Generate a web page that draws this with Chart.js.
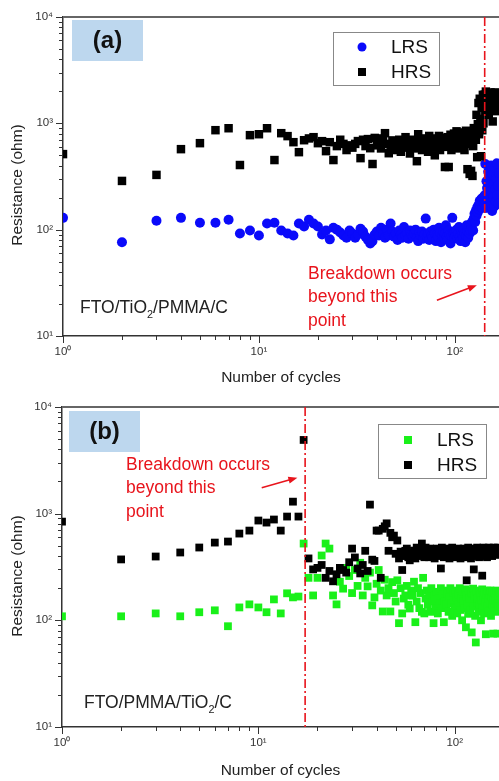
<!DOCTYPE html>
<html>
<head>
<meta charset="utf-8">
<script src="https://cdn.jsdelivr.net/npm/chart.js@4.4.1/dist/chart.umd.min.js"></script>
<style>
  html, body { margin: 0; padding: 0; background: #fff; overflow: hidden; }
  .panel { position: absolute; left: 0; width: 499px; }
  #panelA { top: 0; height: 390px; }
  #panelB { top: 390px; height: 391px; }
</style>
</head>
<body>
<div class="panel" id="panelA"><canvas id="chartA"></canvas></div>
<div class="panel" id="panelB"><canvas id="chartB"></canvas></div>
<script>
// one value per cycle, cycle number = index + 1
const lrsA = [
  129, 76, 121, 129, 116, 116, 124, 92, 98, 88,
  114, 116, 98, 92, 88, 114, 107, 124, 114, 107,
  90, 98, 81, 104, 100, 94, 88, 84, 98, 92,
  84, 90, 102, 96, 86, 80, 74, 78, 90, 96,
  88, 104, 92, 84, 100, 88, 114, 96, 86, 92,
  80, 98, 90, 84, 106, 88, 94, 82, 98, 90,
  86, 92, 100, 84, 78, 94, 88, 96, 82, 90,
  127, 86, 92, 80, 96, 88, 84, 100, 92, 78,
  90, 86, 104, 94, 76, 88, 96, 84, 92, 110,
  86, 80, 98, 90, 74, 88, 129, 94, 84, 96,
  88, 100, 82, 92, 106, 86, 78, 96, 90, 84,
  100, 92, 76, 88, 110, 96, 84, 104, 92, 98,
  114, 106, 120, 98, 128, 141, 118, 150, 135, 161,
  146, 170, 155, 187, 165, 178, 196, 160, 185, 200,
  175, 210, 414, 160, 285, 246, 190, 350, 170, 310,
  260, 180, 400, 230, 150, 330, 200, 270, 165, 380,
  240, 185, 300, 420, 210, 260, 175, 340
];
const hrsA = [
  513, 287, 327, 571, 650, 861, 898, 405, 773, 789,
  898, 451, 807, 757, 664, 535, 693, 720, 740, 650,
  679, 547, 664, 451, 610, 700, 640, 560, 620, 590,
  640, 680, 470, 700, 610, 710, 583, 414, 728, 620,
  660, 580, 720, 807, 640, 523, 600, 690, 560, 650,
  620, 700, 540, 660, 590, 740, 610, 680, 520, 640,
  700, 580, 660, 440, 789, 620, 690, 560, 720, 600,
  650, 700, 540, 760, 610, 680, 590, 720, 500, 660,
  700, 620, 760, 560, 680, 640, 730, 600, 388, 700,
  660, 740, 388, 620, 780, 560, 700, 650, 800, 610,
  720, 840, 580, 700, 760, 640, 820, 600, 740, 680,
  780, 560, 700, 850, 640, 370, 760, 690, 334, 720,
  357, 820, 320, 610, 900, 750, 898, 700, 1200, 480,
  980, 1550, 789, 1700, 1100, 490, 1400, 860, 1850, 1000,
  1600, 1860, 1300, 1985, 1700, 1500, 1900, 1750, 1200, 1850,
  1600, 1950, 1400, 1800, 1700, 1040, 1900, 1650, 1800, 1500,
  1950, 1700, 1850, 1300, 1750, 1900, 1600, 1800
];
const lrsB = [
  109, 109, 116, 109, 119, 124, 88, 132, 141, 132,
  119, 157, 116, 179, 164, 167, 524, 250, 171, 250,
  405, 524, 470, 171, 141, 230, 198, 310, 260, 180,
  296, 210, 346, 171, 250, 208, 280, 138, 164, 220,
  296, 190, 121, 240, 171, 200, 121, 228, 180, 150,
  237, 94, 200, 116, 160, 171, 210, 140, 129, 190,
  170, 230, 96, 150, 200, 130, 180, 120, 250, 116,
  160, 190, 140, 175, 120, 200, 150, 94, 170, 130,
  185, 116, 160, 144, 200, 130, 175, 96, 150, 190,
  140, 179, 120, 165, 200, 144, 110, 180, 155, 130,
  190, 164, 116, 175, 140, 200, 125, 160, 100, 185,
  150, 130, 195, 86, 170, 140, 115, 190, 160, 125,
  180, 77, 150, 198, 135, 170, 110, 62, 185, 145,
  160, 120, 190, 140, 175, 100, 155, 195, 130, 170,
  116, 183, 150, 74, 175, 135, 190, 160, 120, 175,
  145, 190, 110, 165, 140, 185, 75, 155, 130, 180,
  160, 120, 190, 145, 75, 170, 135, 180
];
const hrsB = [
  841, 372, 396, 432, 481, 535, 547, 650, 693, 861,
  824, 880, 693, 938, 1294, 938, 4900, 380, 300, 310,
  330, 250, 290, 232, 270, 310, 296, 280, 350, 470,
  388, 306, 275, 330, 448, 290, 1214, 370, 360, 693,
  693, 250, 720, 760, 810, 448, 660, 600, 622, 420,
  560, 380, 440, 296, 400, 448, 470, 390, 365, 430,
  410, 450, 380, 480, 420, 460, 400, 524, 440, 390,
  480, 420, 450, 390, 470, 430, 410, 460, 380, 440,
  470, 400, 450, 430, 306, 480, 420, 390, 460, 440,
  410, 470, 430, 380, 450, 420, 480, 400, 440, 460,
  390, 450, 420, 470, 410, 440, 380, 460, 430, 400,
  470, 420, 450, 390, 237, 440, 480, 410, 460, 430,
  380, 450, 420, 470, 300, 440, 400, 460, 430, 480,
  410, 450, 390, 470, 420, 440, 460, 262, 430, 480,
  400, 450, 470, 420, 440, 390, 460, 430, 480, 410,
  450, 420, 470, 440, 400, 460, 430, 480, 420, 450,
  470, 440, 410, 460, 430, 480, 450, 420
];

const xMajor = [1, 10, 100];
const xMinor = [2, 3, 4, 5, 6, 7, 8, 9, 20, 30, 40, 50, 60, 70, 80, 90];
const yMajor = [10, 100, 1000, 10000];
const yMinor = [20, 30, 40, 50, 60, 70, 80, 90, 200, 300, 400, 500, 600, 700, 800, 900,
  2000, 3000, 4000, 5000, 6000, 7000, 8000, 9000];
const tickText = { 1: '10⁰', 10: '10¹', 100: '10²', 1000: '10³', 10000: '10⁴' };
const xMax = 168;
const breakdownA = 142;
const breakdownB = 17.3;

const FONT = 'Liberation Sans, Arial, sans-serif';
const RED = 'rgb(232, 20, 28)';

const toPoints = arr => arr.map((v, i) => ({ x: i + 1, y: v }));

function drawMarker(ctx, style, color, x, y, r) {
  ctx.fillStyle = color;
  ctx.beginPath();
  if (style === 'circle') ctx.arc(x, y, r, 0, Math.PI * 2);
  else ctx.rect(x - r, y - r, 2 * r, 2 * r);
  ctx.fill();
}

function drawSubText(ctx, parts, x, y, size) {
  let cx = x;
  parts.forEach(p => {
    const sub = p[1];
    ctx.font = (sub ? size * 0.62 : size) + 'px ' + FONT;
    ctx.fillText(p[0], cx, sub ? y + size * 0.38 : y);
    cx += ctx.measureText(p[0]).width;
  });
}

const decor = {
  id: 'decor',
  afterDraw(chart, args, o) {
    const { ctx, chartArea: a, scales: { x, y } } = chart;
    ctx.save();

    // top frame
    ctx.strokeStyle = '#666';
    ctx.lineWidth = 2;
    ctx.beginPath();
    ctx.moveTo(a.left, a.top);
    ctx.lineTo(a.right, a.top);
    ctx.stroke();

    // outward ticks, major longer than minor
    ctx.strokeStyle = '#333';
    ctx.lineWidth = 1;
    ctx.beginPath();
    xMajor.concat(xMinor).forEach(v => {
      if (v > xMax) return;
      const px = Math.round(x.getPixelForValue(v)) + 0.5;
      const len = xMajor.includes(v) ? 7 : 4;
      ctx.moveTo(px, a.bottom);
      ctx.lineTo(px, a.bottom + len);
    });
    yMajor.concat(yMinor).forEach(v => {
      const py = Math.round(y.getPixelForValue(v)) + 0.5;
      const len = yMajor.includes(v) ? 7 : 4;
      ctx.moveTo(a.left, py);
      ctx.lineTo(a.left - len, py);
    });
    ctx.stroke();

    // y title
    ctx.fillStyle = '#222';
    ctx.font = '15.5px ' + FONT;
    ctx.textAlign = 'center';
    ctx.textBaseline = 'middle';
    ctx.save();
    ctx.translate(18, o.yTitleY);
    ctx.rotate(-Math.PI / 2);
    ctx.fillText('Resistance (ohm)', 0, 0);
    ctx.restore();

    // breakdown line
    const bx = x.getPixelForValue(o.breakdown);
    ctx.strokeStyle = RED;
    ctx.lineWidth = 1.6;
    ctx.setLineDash([9, 3, 2, 3]);
    ctx.beginPath();
    ctx.moveTo(bx, a.top);
    ctx.lineTo(bx, a.bottom);
    ctx.stroke();
    ctx.setLineDash([]);

    // arrow
    const x1 = x.getPixelForValue(o.arrow[0]), y1 = y.getPixelForValue(o.arrow[1]);
    const x2 = x.getPixelForValue(o.arrow[2]), y2 = y.getPixelForValue(o.arrow[3]);
    const ang = Math.atan2(y2 - y1, x2 - x1);
    ctx.strokeStyle = RED;
    ctx.fillStyle = RED;
    ctx.lineWidth = 1.6;
    ctx.beginPath();
    ctx.moveTo(x1, y1);
    ctx.lineTo(x2 - 6 * Math.cos(ang), y2 - 6 * Math.sin(ang));
    ctx.stroke();
    ctx.beginPath();
    ctx.moveTo(x2, y2);
    ctx.lineTo(x2 - 9 * Math.cos(ang) + 3.5 * Math.sin(ang), y2 - 9 * Math.sin(ang) - 3.5 * Math.cos(ang));
    ctx.lineTo(x2 - 9 * Math.cos(ang) - 3.5 * Math.sin(ang), y2 - 9 * Math.sin(ang) + 3.5 * Math.cos(ang));
    ctx.closePath();
    ctx.fill();

    // breakdown note
    ctx.textAlign = 'left';
    ctx.font = '17.5px ' + FONT;
    ['Breakdown occurs', 'beyond this', 'point'].forEach((t, i) => {
      ctx.fillText(t, o.note[0], o.note[1] + i * 23.5);
    });

    // panel label box
    const b = o.labelBox;
    ctx.fillStyle = '#bdd7ee';
    ctx.fillRect(b[0], b[1], b[2] - b[0], b[3] - b[1]);
    ctx.fillStyle = '#111';
    ctx.font = 'bold 24px ' + FONT;
    ctx.textAlign = 'center';
    ctx.fillText(o.label, (b[0] + b[2]) / 2, (b[1] + b[3]) / 2 + 1);

    // legend
    const L = o.legend;
    ctx.fillStyle = '#fff';
    ctx.fillRect(L.box[0], L.box[1], L.box[2] - L.box[0], L.box[3] - L.box[1]);
    ctx.strokeStyle = '#888';
    ctx.lineWidth = 1;
    ctx.strokeRect(L.box[0] + 0.5, L.box[1] + 0.5, L.box[2] - L.box[0], L.box[3] - L.box[1]);
    ctx.textAlign = 'left';
    ctx.font = '19px ' + FONT;
    L.items.forEach((it, i) => {
      const yy = L.rowY[i];
      drawMarker(ctx, it.style, it.color, L.markX, yy, it.r);
      ctx.fillStyle = '#111';
      ctx.fillText(it.label, L.textX, yy + 1);
    });

    // stack label
    ctx.fillStyle = '#222';
    ctx.textAlign = 'left';
    drawSubText(ctx, o.stack, o.stackPos[0], o.stackPos[1], 17.5);

    ctx.restore();
  }
};

function makePanel(id, datasets, yWidth, padTop, titlePad, opts) {
  return new Chart(document.getElementById(id), {
    type: 'scatter',
    data: { datasets },
    options: {
      responsive: true,
      maintainAspectRatio: false,
      animation: false,
      events: [],
      layout: { autoPadding: false, padding: { top: padTop, right: 0, bottom: 0, left: 0 } },
      plugins: { legend: { display: false }, tooltip: { enabled: false }, decor: opts },
      scales: {
        x: {
          type: 'logarithmic',
          min: 1,
          max: xMax,
          afterBuildTicks: s => { s.ticks = xMajor.map(v => ({ value: v })); },
          afterFit: s => { s.height = 54; s.paddingLeft = 0; s.paddingRight = 0; },
          grid: { display: false, drawTicks: false },
          border: { display: true, color: '#333', width: 1.5 },
          ticks: {
            padding: 9, autoSkip: false, maxRotation: 0,
            color: '#333', font: { family: FONT, size: 11.5 },
            callback: v => tickText[v] || ''
          },
          title: {
            display: true, text: 'Number of cycles', color: '#222',
            font: { family: FONT, size: 15.5 }, padding: { top: 0, bottom: titlePad }
          }
        },
        y: {
          type: 'logarithmic',
          min: 10,
          max: 10000,
          afterBuildTicks: s => { s.ticks = yMajor.map(v => ({ value: v })); },
          afterFit: s => { s.width = yWidth; },
          grid: { display: false, drawTicks: false },
          border: { display: true, color: '#333', width: 1.5 },
          ticks: {
            padding: 10, color: '#333', font: { family: FONT, size: 11.5 },
            callback: v => tickText[v] || ''
          }
        }
      }
    },
    plugins: [decor]
  });
}

makePanel('chartA', [
  { label: 'LRS', data: toPoints(lrsA), pointStyle: 'circle', pointRadius: 5,
    backgroundColor: 'rgb(10, 10, 250)', borderWidth: 0, order: 2 },
  { label: 'HRS', data: toPoints(hrsA), pointStyle: 'rect', pointRadius: 6,
    backgroundColor: '#000', borderWidth: 0, order: 1 }
], 63, 15, 3, {
  yTitleY: 185,
  breakdown: breakdownA,
  arrow: [81, 21.7, 129.5, 30],
  note: [308, 274],
  label: '(a)',
  labelBox: [72, 20, 143, 61],
  legend: {
    box: [333, 32, 439, 85], markX: 362, textX: 391, rowY: [47, 72],
    items: [
      { label: 'LRS', style: 'circle', color: 'rgb(10, 10, 250)', r: 4.5 },
      { label: 'HRS', style: 'rect', color: '#000', r: 4 }
    ]
  },
  stack: [['FTO/TiO', false], ['2', true], ['/PMMA/C', false]],
  stackPos: [80, 308]
});

makePanel('chartB', [
  { label: 'LRS', data: toPoints(lrsB), pointStyle: 'rect', pointRadius: 5.5,
    backgroundColor: 'rgb(25, 240, 25)', borderWidth: 0, order: 2 },
  { label: 'HRS', data: toPoints(hrsB), pointStyle: 'rect', pointRadius: 5.5,
    backgroundColor: '#000', borderWidth: 0, order: 1 }
], 62, 16, 1, {
  yTitleY: 186,
  breakdown: breakdownB,
  arrow: [10.4, 1750, 15.8, 2170],
  note: [126, 75],
  label: '(b)',
  labelBox: [69, 21, 140, 62],
  legend: {
    box: [378, 34, 486, 88], markX: 408, textX: 437, rowY: [50, 75],
    items: [
      { label: 'LRS', style: 'rect', color: 'rgb(25, 240, 25)', r: 4 },
      { label: 'HRS', style: 'rect', color: '#000', r: 4 }
    ]
  },
  stack: [['FTO/PMMA/TiO', false], ['2', true], ['/C', false]],
  stackPos: [84, 313]
});
</script>
</body>
</html>
